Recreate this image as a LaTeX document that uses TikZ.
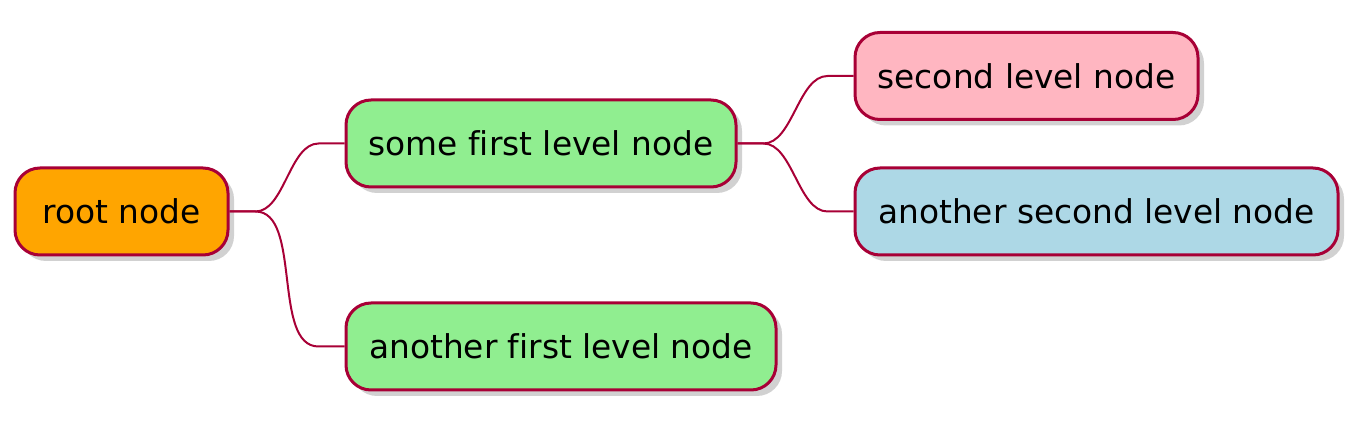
\documentclass[tikz,border=0pt]{standalone}
\usepackage{fontspec}
\setmainfont[Ligatures={NoCommon}]{DejaVu Sans}
\usetikzlibrary{shadows}
\definecolor{edgered}{HTML}{A80036}
\definecolor{rootorange}{HTML}{FFA500}
\definecolor{firstgreen}{HTML}{90EE90}
\definecolor{secondpink}{HTML}{FFB6C1}
\definecolor{secondblue}{HTML}{ADD8E6}
\begin{document}
\begin{tikzpicture}[x=0.5pt,y=-0.5pt,
    mapnode/.style={draw=edgered,line width=1.5pt,rounded corners=12.5pt,
      minimum height=43.5pt,inner sep=0pt,
      font=\fontsize{16.4}{20}\selectfont,
      drop shadow={shadow xshift=3pt,shadow yshift=-3pt,opacity=0.3,fill=black!60}},
    branch/.style={draw=edgered,line width=1pt}]
  \useasboundingbox (0,0) rectangle (1370,432);
  \node[mapnode,fill=rootorange,minimum width=106.5pt](root) at (121.5,211.5) {root node};
  \node[mapnode,fill=firstgreen,minimum width=195pt](someFirst) at (541,143.5) {some first level node};
  \node[mapnode,fill=firstgreen,minimum width=215pt](anotherFirst) at (561,346.5) {another first level node};
  \node[mapnode,fill=secondpink,minimum width=171.5pt](second) at (1026.5,76) {second level node};
  \node[mapnode,fill=secondblue,minimum width=241.5pt](anotherSecond) at (1096.5,211.5) {another second level node};
  \draw[branch] (root.east) -- ++(13pt,0) to[out=0,in=180,looseness=0.8] ([xshift=-13pt]someFirst.west) -- (someFirst.west);
  \draw[branch] (root.east) -- ++(13pt,0) to[out=0,in=180,looseness=0.8] ([xshift=-13pt]anotherFirst.west) -- (anotherFirst.west);
  \draw[branch] (someFirst.east) -- ++(13pt,0) to[out=0,in=180,looseness=0.8] ([xshift=-13pt]second.west) -- (second.west);
  \draw[branch] (someFirst.east) -- ++(13pt,0) to[out=0,in=180,looseness=0.8] ([xshift=-13pt]anotherSecond.west) -- (anotherSecond.west);
\end{tikzpicture}
\end{document}
